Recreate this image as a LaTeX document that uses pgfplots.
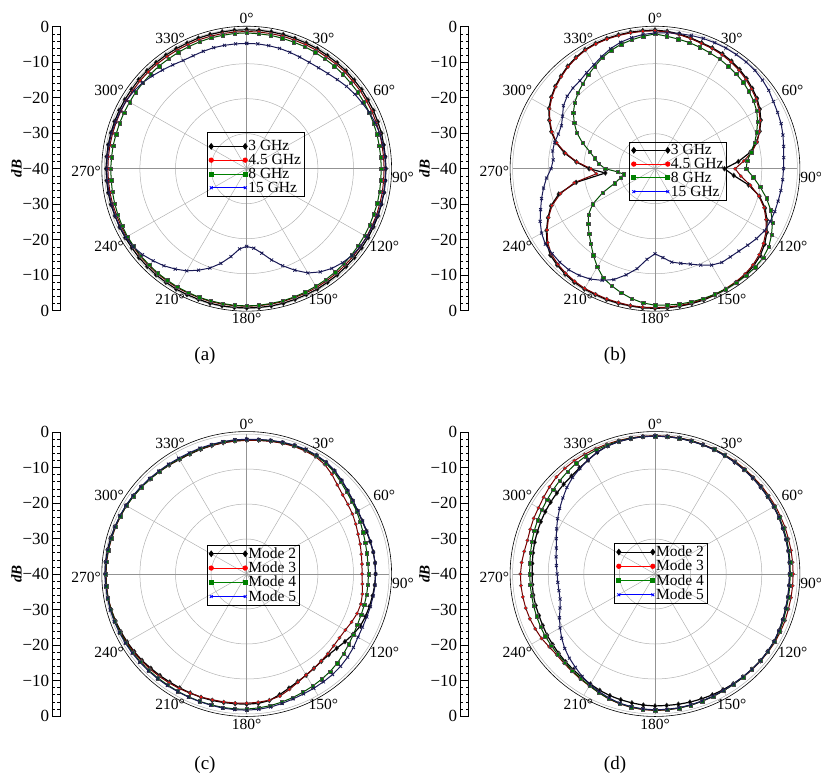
\documentclass[border=0pt]{standalone}
\usepackage{pgfplots}
\pgfplotsset{compat=1.18}
\usepackage{pgfplotstable}
\usepackage{fontspec}
\setmainfont{Liberation Serif}

\definecolor{mgreen}{RGB}{0,128,0}
\definecolor{navyx}{RGB}{25,25,85}

\newcommand{\tickfont}{\fontsize{17}{17}\selectfont}
\newcommand{\anglefont}{\fontsize{15.5}{16}\selectfont}
\newcommand{\legfont}{\fontsize{15.5}{14}\selectfont}
\newcommand{\capfont}{\fontsize{19}{20}\selectfont}
\newcommand{\labfont}{\fontsize{15}{15}\selectfont}

% radiation patterns: angle (deg, clockwise from top) and normalised gain (dB)
% columns: k, r, g, b = first..fourth series of each panel
\pgfplotstableread{
a k r g b
0 -0.3 -0.8 -1.2 -4.2
5 -0.3 -0.8 -1.3 -4.2
10 -0.3 -0.8 -1.3 -4.3
15 -0.3 -0.8 -1.4 -4.4
20 -0.4 -0.9 -1.5 -4.6
25 -0.4 -0.9 -1.5 -4.8
30 -0.4 -0.9 -1.6 -4.9
35 -0.5 -1.0 -1.7 -4.8
40 -0.5 -1.0 -1.7 -4.5
45 -0.5 -1.0 -1.8 -4.0
50 -0.6 -1.1 -1.9 -3.4
55 -0.6 -1.1 -1.9 -2.9
60 -0.7 -1.2 -2.0 -2.5
65 -0.7 -1.2 -2.0 -2.0
70 -0.8 -1.3 -2.1 -1.6
75 -0.8 -1.3 -2.1 -1.3
80 -0.9 -1.4 -2.2 -1.1
85 -0.9 -1.4 -2.2 -1.0
90 -0.9 -1.4 -2.2 -1.0
95 -0.9 -1.4 -2.2 -0.9
100 -0.8 -1.3 -2.1 -0.9
105 -0.8 -1.3 -2.0 -0.9
110 -0.7 -1.2 -2.0 -0.9
115 -0.7 -1.2 -1.9 -1.0
120 -0.6 -1.1 -1.8 -1.0
125 -0.6 -1.1 -1.7 -1.1
130 -0.5 -1.0 -1.6 -1.4
135 -0.5 -1.0 -1.5 -2.0
140 -0.4 -0.9 -1.4 -2.8
145 -0.4 -0.9 -1.3 -4.0
150 -0.3 -0.8 -1.2 -5.6
155 -0.3 -0.8 -1.1 -8.0
160 -0.3 -0.8 -1.0 -10.5
165 -0.2 -0.7 -0.9 -13.0
170 -0.2 -0.7 -0.9 -15.5
175 -0.2 -0.7 -0.8 -17.2
180 -0.2 -0.7 -0.8 -17.8
185 -0.2 -0.7 -0.8 -17.0
190 -0.2 -0.7 -0.9 -14.5
195 -0.2 -0.7 -0.9 -12.0
200 -0.3 -0.8 -0.9 -9.8
205 -0.3 -0.8 -1.0 -8.0
210 -0.3 -0.8 -1.0 -6.3
215 -0.4 -0.9 -1.1 -5.0
220 -0.4 -0.9 -1.1 -3.8
225 -0.5 -1.0 -1.2 -2.8
230 -0.5 -1.0 -1.2 -1.8
235 -0.6 -1.1 -1.3 -1.1
240 -0.6 -1.1 -1.3 -0.8
245 -0.6 -1.1 -1.4 -0.7
250 -0.6 -1.1 -1.5 -0.7
255 -0.5 -1.0 -1.6 -0.7
260 -0.5 -1.0 -1.7 -0.7
265 -0.5 -1.0 -1.8 -0.7
270 -0.5 -1.0 -1.8 -0.7
275 -0.5 -1.0 -1.9 -0.7
280 -0.5 -1.0 -1.9 -0.7
285 -0.5 -1.0 -2.0 -0.7
290 -0.5 -1.0 -2.0 -0.8
295 -0.5 -1.0 -2.0 -0.9
300 -0.5 -1.0 -2.0 -1.0
305 -0.5 -1.0 -1.9 -1.3
310 -0.4 -0.9 -1.9 -1.8
315 -0.4 -0.9 -1.8 -2.5
320 -0.4 -0.9 -1.7 -3.2
325 -0.4 -0.9 -1.7 -3.8
330 -0.4 -0.9 -1.6 -4.3
335 -0.4 -0.9 -1.5 -4.4
340 -0.3 -0.8 -1.4 -4.3
345 -0.3 -0.8 -1.3 -4.2
350 -0.3 -0.8 -1.3 -4.2
355 -0.3 -0.8 -1.2 -4.2
360 -0.3 -0.8 -1.2 -4.2
}\patA

\pgfplotstableread{
a k r g b
0 -0.4 -0.6 -1.5 -1.2
5 -0.6 -0.8 -2.0 -1.0
10 -0.9 -1.1 -2.4 -0.8
15 -1.3 -1.5 -2.7 -0.6
20 -1.7 -1.9 -3.1 -0.4
25 -1.9 -2.1 -3.5 -0.3
30 -2.1 -2.4 -3.8 -0.2
35 -2.5 -2.8 -4.2 -0.2
40 -3.0 -3.3 -4.6 -0.2
45 -3.6 -3.9 -5.0 -0.3
50 -4.3 -4.6 -5.6 -0.6
55 -5.0 -5.3 -6.2 -1.0
60 -6.0 -6.3 -7.0 -1.6
65 -7.2 -7.4 -8.2 -2.0
70 -8.7 -8.8 -9.6 -2.3
75 -10.4 -10.3 -11.0 -2.8
80 -12.8 -12.3 -12.6 -3.3
85 -16.5 -15.0 -14.0 -3.7
90 -20.5 -17.5 -14.4 -3.9
95 -17.8 -15.8 -12.3 -4.0
100 -13.3 -12.8 -10.0 -4.1
105 -9.6 -9.8 -7.6 -4.2
110 -7.1 -7.4 -5.4 -4.2
115 -5.3 -5.6 -3.6 -4.3
120 -3.7 -4.0 -2.2 -4.5
125 -2.4 -2.8 -1.0 -5.2
130 -1.4 -1.8 -0.4 -6.0
135 -0.8 -1.1 -0.2 -6.7
140 -0.4 -0.7 -0.2 -7.1
145 -0.3 -0.5 -0.2 -7.3
150 -0.2 -0.4 -0.3 -8.2
155 -0.2 -0.3 -0.4 -9.6
160 -0.1 -0.3 -0.5 -11.0
165 -0.1 -0.3 -0.6 -12.0
170 -0.1 -0.3 -0.7 -12.9
175 -0.1 -0.3 -0.9 -14.5
180 -0.1 -0.3 -1.0 -15.7
185 -0.1 -0.3 -1.5 -14.0
190 -0.2 -0.3 -2.3 -11.0
195 -0.2 -0.4 -3.3 -8.6
200 -0.2 -0.4 -4.4 -6.3
205 -0.3 -0.5 -5.6 -4.8
210 -0.3 -0.5 -7.6 -3.6
215 -0.4 -0.7 -9.8 -2.8
220 -0.7 -1.0 -12.0 -2.3
225 -1.1 -1.4 -13.8 -2.2
230 -1.6 -2.0 -15.5 -2.3
235 -2.9 -3.2 -17.2 -2.4
240 -4.8 -5.0 -19.8 -3.2
245 -6.8 -7.0 -23.8 -4.4
250 -8.9 -9.2 -28.0 -5.8
255 -12.0 -12.5 -30.0 -7.0
260 -17.5 -17.0 -31.0 -8.2
265 -26.0 -23.5 -29.5 -9.4
270 -21.5 -22.0 -26.0 -10.8
275 -17.8 -18.0 -24.2 -11.3
280 -14.2 -14.5 -22.8 -10.8
285 -11.2 -11.4 -21.0 -10.8
290 -9.0 -9.2 -18.3 -11.1
295 -7.2 -7.4 -15.8 -11.0
300 -5.6 -5.8 -13.8 -10.0
305 -4.4 -4.6 -12.0 -8.6
310 -3.4 -3.6 -10.6 -7.8
315 -2.6 -2.8 -9.4 -7.4
320 -1.8 -2.0 -8.4 -7.2
325 -1.2 -1.4 -7.3 -6.5
330 -0.7 -0.9 -6.2 -5.7
335 -0.5 -0.7 -5.0 -4.6
340 -0.4 -0.6 -4.0 -3.5
345 -0.4 -0.6 -3.2 -2.6
350 -0.4 -0.6 -2.6 -2.0
355 -0.4 -0.6 -2.0 -1.5
360 -0.4 -0.6 -1.5 -1.2
}\patB

\pgfplotstableread{
a k r g b
0 -1.7 -1.8 -1.6 -1.5
5 -1.6 -1.7 -1.5 -1.4
10 -1.4 -1.5 -1.3 -1.2
15 -1.2 -1.3 -1.1 -1.0
20 -1.0 -1.2 -0.9 -0.8
25 -0.9 -1.2 -0.9 -0.7
30 -0.9 -1.3 -1.0 -0.8
35 -1.1 -1.8 -1.3 -1.0
40 -1.6 -2.8 -1.9 -1.5
45 -2.3 -4.0 -2.7 -2.2
50 -3.0 -4.8 -3.4 -2.9
55 -3.6 -5.3 -3.9 -3.5
60 -4.0 -5.7 -4.3 -3.9
65 -4.2 -6.2 -4.8 -4.1
70 -4.2 -6.7 -5.2 -4.1
75 -4.1 -7.0 -5.5 -4.0
80 -3.9 -7.3 -5.7 -3.9
85 -3.8 -7.5 -5.8 -3.8
90 -3.8 -7.6 -5.8 -3.8
95 -3.9 -7.4 -5.8 -3.8
100 -4.1 -7.0 -5.8 -3.9
105 -4.3 -6.8 -5.8 -4.0
110 -4.5 -7.0 -5.8 -4.1
115 -4.8 -7.5 -5.7 -4.1
120 -5.5 -8.0 -5.4 -3.9
125 -6.3 -8.2 -5.0 -3.4
130 -7.0 -8.1 -4.5 -3.0
135 -7.4 -7.8 -4.0 -2.7
140 -7.4 -7.5 -3.6 -2.5
145 -7.1 -7.1 -3.3 -2.4
150 -6.6 -6.7 -3.0 -2.3
155 -6.1 -5.9 -2.7 -2.2
160 -5.3 -4.9 -2.4 -2.0
165 -4.3 -3.9 -2.1 -1.7
170 -3.3 -3.4 -1.8 -1.4
175 -2.9 -3.2 -1.6 -1.2
180 -2.8 -3.1 -1.4 -1.1
185 -2.8 -3.0 -1.3 -1.1
190 -2.7 -2.9 -1.3 -1.1
195 -2.6 -2.8 -1.3 -1.2
200 -2.5 -2.6 -1.3 -1.2
205 -2.5 -2.4 -1.3 -1.2
210 -2.4 -2.2 -1.3 -1.2
215 -2.3 -2.0 -1.3 -1.1
220 -2.1 -1.8 -1.2 -1.0
225 -1.9 -1.6 -1.1 -0.9
230 -1.6 -1.4 -1.0 -0.8
235 -1.4 -1.2 -0.9 -0.7
240 -1.2 -1.0 -0.8 -0.6
245 -1.0 -0.8 -0.7 -0.5
250 -0.8 -0.7 -0.6 -0.4
255 -0.6 -0.6 -0.5 -0.3
260 -0.4 -0.5 -0.4 -0.3
265 -0.3 -0.5 -0.4 -0.3
270 -0.2 -0.5 -0.4 -0.3
275 -0.2 -0.5 -0.4 -0.3
280 -0.3 -0.6 -0.5 -0.4
285 -0.4 -0.7 -0.6 -0.5
290 -0.6 -0.8 -0.7 -0.6
295 -0.8 -0.9 -0.8 -0.7
300 -0.9 -1.0 -1.0 -0.8
305 -1.1 -1.2 -1.2 -1.0
310 -1.3 -1.4 -1.4 -1.2
315 -1.6 -1.6 -1.6 -1.4
320 -1.8 -1.8 -1.8 -1.6
325 -2.0 -2.0 -1.9 -1.7
330 -2.2 -2.1 -2.0 -1.8
335 -2.2 -2.1 -2.0 -1.8
340 -2.1 -2.0 -1.9 -1.7
345 -2.0 -2.0 -1.8 -1.7
350 -1.9 -1.9 -1.7 -1.6
355 -1.8 -1.9 -1.6 -1.5
360 -1.7 -1.8 -1.6 -1.5
}\patC

\pgfplotstableread{
a k r g b
0 -0.6 -0.5 -0.6 -0.6
5 -0.6 -0.5 -0.6 -0.6
10 -0.6 -0.5 -0.6 -0.6
15 -0.7 -0.5 -0.6 -0.7
20 -0.7 -0.6 -0.7 -0.7
25 -0.8 -0.6 -0.7 -0.8
30 -0.9 -0.7 -0.8 -0.9
35 -1.0 -0.7 -0.9 -1.0
40 -1.1 -0.8 -1.0 -1.1
45 -1.2 -0.9 -1.1 -1.2
50 -1.3 -0.9 -1.2 -1.3
55 -1.4 -1.0 -1.3 -1.4
60 -1.5 -1.0 -1.4 -1.5
65 -1.6 -1.1 -1.5 -1.6
70 -1.8 -1.1 -1.6 -1.8
75 -1.9 -1.2 -1.7 -1.9
80 -2.0 -1.2 -1.8 -2.0
85 -2.1 -1.2 -1.9 -2.1
90 -2.2 -1.2 -2.0 -2.2
95 -2.2 -1.2 -2.0 -2.2
100 -2.1 -1.2 -1.9 -2.1
105 -2.0 -1.2 -1.8 -2.0
110 -1.8 -1.1 -1.6 -1.8
115 -1.6 -1.1 -1.4 -1.6
120 -1.4 -1.1 -1.3 -1.4
125 -1.4 -1.2 -1.3 -1.4
130 -1.4 -1.3 -1.4 -1.4
135 -1.5 -1.4 -1.5 -1.5
140 -1.6 -1.5 -1.5 -1.6
145 -1.7 -1.5 -1.5 -1.6
150 -1.8 -1.5 -1.5 -1.6
155 -1.9 -1.4 -1.4 -1.5
160 -2.0 -1.3 -1.3 -1.4
165 -2.1 -1.2 -1.2 -1.3
170 -2.2 -1.1 -1.1 -1.2
175 -2.3 -1.0 -1.1 -1.2
180 -2.3 -1.0 -1.1 -1.2
185 -2.4 -1.1 -1.2 -1.3
190 -2.6 -1.3 -1.4 -1.5
195 -2.8 -1.6 -1.7 -1.8
200 -3.0 -2.0 -2.1 -2.3
205 -3.3 -2.6 -2.6 -2.9
210 -3.7 -3.1 -3.2 -3.5
215 -4.0 -3.4 -3.6 -4.3
220 -4.3 -3.7 -3.9 -5.2
225 -4.5 -3.9 -4.2 -6.0
230 -4.7 -4.0 -4.3 -6.9
235 -4.9 -3.7 -4.4 -8.0
240 -5.0 -3.2 -4.4 -9.2
245 -5.2 -2.9 -4.5 -10.4
250 -5.3 -2.6 -4.6 -11.6
255 -5.3 -2.4 -4.7 -12.4
260 -5.3 -2.3 -4.8 -12.6
265 -5.4 -2.2 -4.8 -12.6
270 -5.5 -2.2 -4.8 -12.5
275 -5.4 -2.4 -4.7 -12.2
280 -5.2 -2.7 -4.5 -11.8
285 -5.0 -2.9 -4.2 -11.3
290 -4.8 -2.7 -3.9 -10.5
295 -4.6 -2.4 -3.6 -9.5
300 -4.4 -2.2 -3.3 -8.4
305 -4.2 -1.8 -3.0 -7.3
310 -4.0 -1.3 -2.6 -6.2
315 -3.7 -0.8 -2.2 -5.0
320 -3.5 -0.6 -1.8 -4.0
325 -3.0 -0.5 -1.4 -3.2
330 -2.4 -0.5 -1.1 -2.4
335 -1.6 -0.5 -0.9 -1.6
340 -1.0 -0.5 -0.8 -1.1
345 -0.8 -0.5 -0.7 -0.8
350 -0.7 -0.5 -0.6 -0.7
355 -0.6 -0.5 -0.6 -0.6
360 -0.6 -0.5 -0.6 -0.6
}\patD

\tikzset{
  sK/.style={black, line width=1.2pt, mark=diamond*, mark size=2.5pt, mark options={solid, line width=0.4pt, draw=black!80, fill=black}},
  sR/.style={red!45!black, line width=1.0pt, mark=*, mark size=1.7pt, mark options={solid, line width=0.4pt, draw=black!70, fill=red}},
  sG/.style={green!30!black, line width=1.0pt, mark=square*, mark size=1.7pt, mark options={solid, line width=0.4pt, draw=black!70, fill=mgreen}},
  sB/.style={navyx, line width=1.0pt, mark=x, mark size=2.1pt, mark options={solid, line width=0.8pt}},
  lK/.style={black, line width=0.8pt, mark=diamond*, mark size=2.8pt, mark options={solid, fill=black}},
  lR/.style={red, line width=0.8pt, mark=*, mark size=2.2pt, mark options={solid, fill=red}},
  lG/.style={mgreen, line width=0.8pt, mark=square*, mark size=2.0pt, mark options={solid, fill=mgreen}},
  lB/.style={blue, line width=0.8pt, mark=x, mark size=2.0pt, mark options={solid}},
}

\pgfplotsset{
  polarbase/.style={
    anchor=center, x=3.56pt, y=3.5pt,
    xmin=-42, xmax=42, ymin=-42, ymax=42,
    hide axis, clip=false,
    legend cell align=left,
    legend image code/.code={\draw[##1] plot coordinates {(0pt,0pt) (34pt,0pt)};},
    legend style={anchor=north west, draw=black, fill=none, font=\legfont,
      inner xsep=2pt, inner ysep=1.5pt, row sep=0pt,
      nodes={inner sep=1pt}},
  },
  scalebar/.style={
    anchor=north west, scale only axis, width=7.3pt, height=284pt,
    xmin=0, xmax=1, ymin=-40, ymax=40,
    xtick=\empty, ytick={-40,-30,...,40},
    yticklabels={0,−10,−20,−30,−40,−30,−20,−10,0},
    minor y tick num=4, tick align=inside,
    ytick pos=both, yticklabel pos=left,
    major tick length=4.5pt, minor tick length=2.5pt,
    tick style={black, line width=0.5pt},
    axis line style={line width=0.8pt},
    yticklabel style={font=\tickfont},
    ylabel={\textbf{\textit{dB}}}, ylabel style={font=\labfont, yshift=-6pt},
  },
}

% grey polar grid, black frame and angle labels around a centre (x, y downward)
\newcommand{\polargrid}[2]{%
  \begin{scope}[shift={(#1pt,-#2pt)}, x=3.56pt, y=3.5pt]
    \foreach \r in {10,20,30,40}
      \draw[gray!60, line width=0.5pt] (0,0) circle [radius=\r];
    \foreach \t in {30,60,120,150,210,240,300,330}
      \draw[gray!60, line width=0.5pt] (0,0) -- ({40*sin(\t)},{40*cos(\t)});
    \foreach \t in {0,90,180,270}
      \draw[gray!85, line width=0.6pt] (0,0) -- ({40*sin(\t)},{40*cos(\t)});
    \draw[black, line width=0.6pt] (0,0) circle [radius=40.7];
    \foreach \t in {0,30,60,120,150,180,210,240,300,330}{
      \pgfmathtruncatemacro{\an}{mod(630-\t,360)}
      \node[anchor=\an, inner sep=1pt, font=\anglefont]
        at ({41*sin(\t)},{41*cos(\t)}) {\t°};
    }
    \node[anchor=west, inner sep=0pt, font=\anglefont] at (40.8,-2.6) {90°};
    \node[anchor=east, inner sep=0.5pt, font=\anglefont] at (-40.8,-0.9) {270°};
  \end{scope}}

\newcommand{\pcurve}[3]{%
  \addplot[#1, forget plot] table[x expr={(\thisrow{#3}+40)*sin(\thisrow{a})},
    y expr={(\thisrow{#3}+40)*cos(\thisrow{a})}] {#2};}

\begin{document}
\begin{tikzpicture}
\path[use as bounding box] (0,0) rectangle (821pt,-776pt);

% ---------- (a) ----------
\polargrid{246.7}{168.7}
\begin{axis}[scalebar, at={(52.7pt,-26.7pt)}]
\end{axis}
\begin{axis}[polarbase, at={(246.7pt,-168.7pt)},
  legend style={at={(axis cs:-11.2,10.4)}}]
  \addlegendimage{empty legend}\addlegendentry{\rule{0pt}{2pt}}
  \addlegendimage{lK}\addlegendentry{3 GHz}
  \addlegendimage{lR}\addlegendentry{4.5 GHz}
  \addlegendimage{lG}\addlegendentry{8 GHz}
  \addlegendimage{lB}\addlegendentry{15 GHz}
  \pcurve{sK}{\patA}{k}
  \pcurve{sR}{\patA}{r}
  \pcurve{sG}{\patA}{g}
  \pcurve{sB}{\patA}{b}
\end{axis}
\node[font=\capfont] at (205pt,-356pt) {(a)};

% ---------- (b) ----------
\polargrid{655}{168.7}
\begin{axis}[scalebar, at={(460.7pt,-26.7pt)}]
\end{axis}
\begin{axis}[polarbase, at={(655pt,-168.7pt)},
  legend style={at={(axis cs:-7.2,7.7)}}]
  \addlegendimage{lK}\addlegendentry{3 GHz}
  \addlegendimage{lR}\addlegendentry{4.5 GHz}
  \addlegendimage{lG}\addlegendentry{8 GHz}
  \addlegendimage{lB}\addlegendentry{15 GHz}
  \pcurve{sK}{\patB}{k}
  \pcurve{sR}{\patB}{r}
  \pcurve{sG}{\patB}{g}
  \pcurve{sB}{\patB}{b}
\end{axis}
\node[font=\capfont] at (615pt,-356pt) {(b)};

% ---------- (c) ----------
\polargrid{246.7}{574}
\begin{axis}[scalebar, at={(52.7pt,-432pt)}]
\end{axis}
\begin{axis}[polarbase, at={(246.7pt,-574pt)},
  legend style={at={(axis cs:-11.2,8.3)}}]
  \addlegendimage{lK}\addlegendentry{Mode 2}
  \addlegendimage{lR}\addlegendentry{Mode 3}
  \addlegendimage{lG}\addlegendentry{Mode 4}
  \addlegendimage{lB}\addlegendentry{Mode 5}
  \pcurve{sK}{\patC}{k}
  \pcurve{sR}{\patC}{r}
  \pcurve{sG}{\patC}{g}
  \pcurve{sB}{\patC}{b}
\end{axis}
\node[font=\capfont] at (205pt,-765pt) {(c)};

% ---------- (d) ----------
\polargrid{655}{574}
\begin{axis}[scalebar, at={(460.7pt,-432pt)}]
\end{axis}
\begin{axis}[polarbase, at={(655pt,-574pt)},
  legend style={at={(axis cs:-11.4,8.8)}}]
  \addlegendimage{lK}\addlegendentry{Mode 2}
  \addlegendimage{lR}\addlegendentry{Mode 3}
  \addlegendimage{lG}\addlegendentry{Mode 4}
  \addlegendimage{lB}\addlegendentry{Mode 5}
  \pcurve{sK}{\patD}{k}
  \pcurve{sR}{\patD}{r}
  \pcurve{sG}{\patD}{g}
  \pcurve{sB}{\patD}{b}
\end{axis}
\node[font=\capfont] at (615pt,-765pt) {(d)};
\end{tikzpicture}
\end{document}
